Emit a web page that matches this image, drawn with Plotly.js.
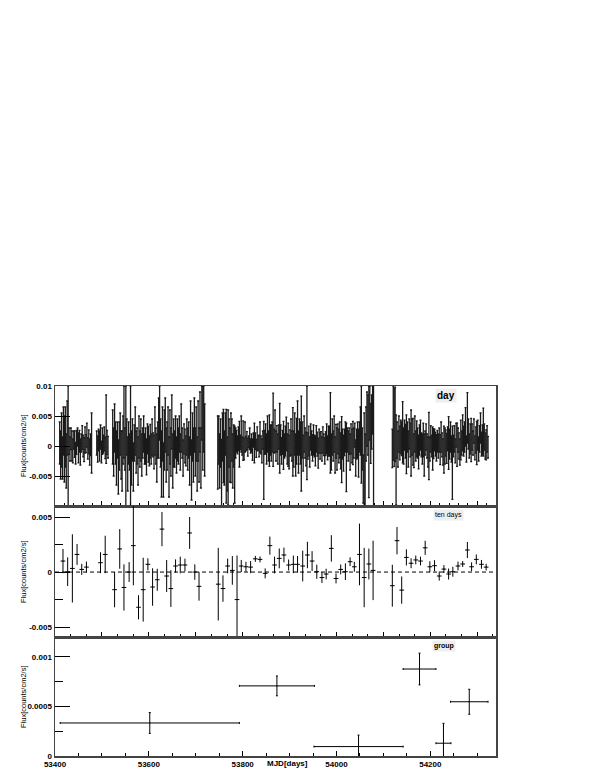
<!DOCTYPE html>
<html>
<head>
<meta charset="utf-8">
<script src="https://cdn.plot.ly/plotly-3.0.1.min.js"></script>
<style>html,body{margin:0;padding:0;background:#fff;}#chart{width:595px;height:770px;}</style>
</head>
<body>
<div id="chart"></div>
<script>
// ---------- DATA ----------
// Daily light curve: segments of daily points (2-day sampling), flux in units of 1e-4 counts/cm2/s
const daySegStart = [53410, 53489, 53523, 53747, 54057, 54119];
const daySegStep = 2;
const dayFluxSeg1 = [5,-15,10,-20,25,-5,15,-25,30,0,8,-5,12,0,-8,10,3,-12,6,15,-3,8,-10,5,14,0,-6,10,4,18,-4,7,-10,2,5];
const dayErrSeg1  = [35,40,45,35,40,55,50,45,45,100,22,20,18,25,20,15,22,18,20,15,25,18,22,15,20,18,20,22,15,20,18,20,22,18,50];
const dayFluxSeg2 = [5,-5,10,0,15,-10,8,3,12,-3,28,6,-2];
const dayErrSeg2  = [20,22,18,25,20,18,22,15,20,18,57,20,18];
const dayFluxSeg3 = [15,-10,30,5,-20,10,-35,0,20,-15,
  -25,10,40,-5,0,15,-30,5,-10,0,
  -20,10,-35,5,25,-10,0,-25,15,-5,
  10,-15,5,20,-5,0,-18,12,3,-8,
  8,-5,15,2,-10,25,0,-20,10,30,
  55,5,-30,20,-40,10,35,-15,0,25,
  -35,15,-10,40,-25,5,-5,15,-15,10,
  0,20,-10,30,5,-20,12,0,-8,15,
  -5,10,-25,30,-40,15,-15,35,-10,20,
  -30,25,-15,40,-20,55,30,45,10];
const dayErrSeg3 = [45,40,40,35,45,30,45,40,35,40,
  50,40,60,35,100,30,45,35,30,100,
  45,35,40,30,40,35,30,40,35,30,
  35,35,25,30,25,30,30,25,30,25,
  28,25,30,20,28,40,30,40,30,50,
  45,40,55,45,45,50,45,45,40,40,
  50,45,40,45,45,40,30,35,30,35,
  30,30,30,40,25,30,25,28,25,30,
  35,30,40,45,50,40,45,45,40,45,
  45,50,45,50,50,45,70,55,60];
const dayFluxSeg4 = [-11,10,-25,5,-47,15,0,-20,20,-17,
  -30,-19,5,-15,-3,10,-25,0,-31,5,
  8,2,12,3,6,20,0,9,-5,15,
  4,9,-2,7,12,0,5,-6,10,5,
  8,-4,12,5,0,15,2,-8,10,-24,
  6,12,-5,20,0,9,10,5,15,27,
  8,25,0,12,-5,15,13,10,-8,6,
  1,0,8,20,-5,2,-10,5,15,0,
  7,-5,20,-15,8,30,-10,15,5,4,
  10,-12,20,5,-5,22,0,8,-10,15,
  5,-3,10,0,-8,12,3,-12,8,0,
  6,-5,10,2,-8,4,12,-3,8,8,
  22,-10,15,0,20,-15,8,-5,12,0,
  10,-8,-6,3,-12,6,15,-19,10,0,
  8,-10,12,0,5,5,18,-20,3,10,
  -12,15,25,19,-5];
const dayErrSeg4 = [61,40,45,40,58,40,61,45,35,78,
  45,79,40,45,58,35,45,35,64,25,
  18,15,20,38,12,30,15,33,18,25,
  12,15,15,10,18,12,15,18,12,33,
  14,15,20,12,18,25,15,20,15,65,
  20,25,25,30,25,43,25,30,25,61,
  20,35,25,22,25,20,58,25,22,20,
  40,20,25,28,25,36,28,22,30,25,
  57,30,35,35,38,45,35,30,35,79,
  30,30,30,25,28,78,22,25,25,22,
  20,22,25,18,25,22,20,25,20,22,
  18,20,22,18,22,20,25,20,25,25,
  67,30,30,25,30,30,28,35,25,28,
  30,30,55,25,30,22,25,57,20,25,
  22,30,25,28,36,25,20,30,25,30,
  40,25,40,81,35];
const dayFluxSeg5 = [-55,-23,-40,20,45,35,7,55,21,40,60,0];
const dayErrSeg5  = [40,78,60,45,45,50,93,45,50,45,40,110];
const dayFluxSeg6 = [-4,38,31,36,-23,10,-5,20,5,15,
  12,23,0,18,8,3,15,-5,20,10,
  5,15,7,-8,20,0,12,5,-10,10,
  18,2,-5,10,-15,5,15,0,-10,0,
  -5,12,0,-4,4,10,3,-3,8,0,
  10,-6,15,2,-10,-6,0,5,-4,12,
  5,3,15,-5,-28,0,12,-8,18,2,
  10,0,-10,10,5,22,8,15,32,-5,
  47,20,0,12,10,15,5,25,-3,10,
  5,18,-5,12,30,3,10,23,15,0,
  2,12,-2];
const dayErrSeg6 = [32,62,65,62,75,30,30,30,28,28,
  28,51,30,25,28,49,25,30,25,28,
  55,30,39,28,30,25,30,25,28,25,
  25,20,25,28,35,20,22,20,25,56,
  20,22,18,36,25,18,20,22,18,20,
  20,25,25,20,22,39,30,22,25,20,
  44,25,25,22,61,18,22,20,20,36,
  20,22,22,33,20,30,25,25,32,22,
  42,25,20,25,36,22,20,20,20,22,
  36,25,20,22,25,20,25,40,22,22,
  25,22,18];

// Ten-day bins (MJD, flux, error) in counts/cm2/s
const tenMJD = [53417,53427,53437,53447,53457,53467,53497,53507,53527,53538,53547,53558,53567,53578,53588,53598,53608,53618,53628,53638,53647,53657,53667,53677,53687,53698,53707,
  53748,53758,53768,53778,53788,53797,53807,53817,53827,53837,53848,53858,53868,53878,53888,53898,53908,53917,53928,53938,53948,53958,53969,53978,53989,53999,54009,54019,54029,54038,54049,54059,54069,54078,
  54119,54129,54139,54149,54159,54169,54179,54189,54199,54209,54219,54229,54239,54248,54259,54269,54279,54288,54298,54309,54319];
const tenFlux = [0.0010,0.00003,0.00033,0.0016,0.00024,0.00045,0.00085,0.0016,-0.0016,0.0021,-0.0014,0.0,0.0024,-0.0032,-0.0016,0.0007,-0.00136,-0.0007,0.0039,-0.00036,-0.0015,0.00055,0.00064,0.00064,0.00355,0.0,-0.0013,
  -0.0011,-0.0015,0.00055,0.00015,-0.0025,0.00055,0.00048,0.00045,0.0012,0.00115,-0.00012,0.0024,0.00064,0.00124,0.00155,0.00064,0.0007,0.0007,0.00055,0.00155,0.0010,0.00003,-0.0005,-0.00018,0.00215,-0.00058,0.00024,0.00003,0.00094,0.00048,0.0016,-0.0005,0.00073,0.00015,
  -0.00124,0.00285,-0.00164,0.00133,0.0008,0.0011,0.0010,0.0022,0.00048,0.00058,-0.00036,0.00027,-0.00018,0.00003,0.00055,0.00073,0.0020,0.00048,0.00115,0.0007,0.00045];
const tenErr = [0.0011,0.0013,0.0031,0.00095,0.0005,0.0005,0.00095,0.0017,0.0016,0.0018,0.0021,0.0009,0.0036,0.0011,0.0029,0.00055,0.0017,0.0010,0.00155,0.00145,0.00167,0.0006,0.00076,0.00058,0.00145,0.0007,0.0013,
  0.0033,0.0012,0.00067,0.0013,0.0040,0.00055,0.00045,0.00055,0.00027,0.00027,0.00045,0.00082,0.00076,0.0009,0.00067,0.0005,0.0008,0.00076,0.0014,0.0012,0.0009,0.00064,0.0005,0.00048,0.0012,0.00045,0.00045,0.00076,0.0004,0.00045,0.0028,0.0027,0.0014,0.0027,
  0.0019,0.00124,0.00124,0.00073,0.00045,0.0004,0.0004,0.00064,0.0005,0.0005,0.00042,0.00036,0.0005,0.00045,0.0004,0.00027,0.00073,0.0004,0.00045,0.0004,0.0003];
const tenHalfWidth = 5;

// Grouped bins
const groupMJD = [53602, 53873, 54047, 54177, 54228, 54283];
const groupHalfWidth = [191, 80, 95, 35, 16, 40];
const groupFlux = [0.000333, 0.000707, 0.000095, 0.000877, 0.000129, 0.000547];
const groupErr = [0.000105, 0.0001, 0.000116, 0.00016, 0.0002, 0.000126];

// Axis tick labels
const xTickVals = [53400, 53600, 53800, 54000, 54200];
const xTickText = ['53400', '53600', '53800', '54000', '54200'];
const y1TickVals = [-0.005, 0, 0.005, 0.01];
const y1TickText = ['-0.005', '0', '0.005', '0.01'];
const y2TickVals = [-0.005, 0, 0.005];
const y2TickText = ['-0.005', '0', '0.005'];
const y3TickVals = [0, 0.0005, 0.001];
const y3TickText = ['0', '0.0005', '0.001'];

// ---------- BUILD ----------
const segFlux = [dayFluxSeg1, dayFluxSeg2, dayFluxSeg3, dayFluxSeg4, dayFluxSeg5, dayFluxSeg6];
const segErr = [dayErrSeg1, dayErrSeg2, dayErrSeg3, dayErrSeg4, dayErrSeg5, dayErrSeg6];
const dayX = [], dayY = [], dayE = [];
segFlux.forEach((arr, s) => {
  arr.forEach((v, i) => {
    dayX.push(daySegStart[s] + daySegStep * i);
    dayY.push(v * 1e-4);
    dayE.push(segErr[s][i] * 1e-4);
  });
});

const W = 595, H = 770;
const px = v => v / W;
const py = v => 1 - v / H;
const xDom = [px(55), px(496)];
const xRange = [53400, 54340];
const frameColor = '#444';
const FONT = 'Liberation Sans, Arial, sans-serif';
const tickFont = {family: FONT, size: 8, color: '#000', weight: 'bold'};

function xAxis(anchor, dtick, minorDtick, showLabels) {
  return {
    domain: xDom, range: xRange, anchor: anchor, showgrid: false, zeroline: false,
    showline: true, mirror: true, linecolor: frameColor, linewidth: 1.5,
    ticks: 'inside', ticklen: 5, tickcolor: '#000', tickwidth: 1,
    tick0: 53400, dtick: dtick,
    minor: {ticks: 'inside', ticklen: 3, dtick: minorDtick, tick0: 53400, tickcolor: '#000', showgrid: false},
    showticklabels: showLabels, tickfont: tickFont, automargin: false, fixedrange: true
  };
}
function yAxis(anchor, dom, range, tv, tt, minorDtick) {
  const a = {
    domain: dom, range: range, anchor: anchor, showgrid: false, zeroline: false,
    showline: true, mirror: true, linecolor: frameColor, linewidth: 1.5,
    ticks: 'inside', ticklen: 15, tickcolor: '#000', tickwidth: 1,
    tickmode: 'array', tickvals: tv, ticktext: tt, tickfont: tickFont,
    automargin: false, fixedrange: true
  };
  if (minorDtick) a.minor = {ticks: 'inside', ticklen: 8, dtick: minorDtick, tick0: 0, tickcolor: '#000', showgrid: false};
  return a;
}

const traces = [
  {
    x: dayX, y: dayY, type: 'scatter', mode: 'markers', xaxis: 'x', yaxis: 'y',
    marker: {size: 0.5, color: '#000'},
    error_y: {type: 'data', array: dayE, visible: true, color: '#1a1a1a', thickness: 1.3, width: 1},
    hoverinfo: 'skip', showlegend: false
  },
  {
    x: tenMJD, y: tenFlux, type: 'scatter', mode: 'markers', xaxis: 'x2', yaxis: 'y2',
    marker: {size: 1, color: '#000'},
    error_y: {type: 'data', array: tenErr, visible: true, color: '#000', thickness: 1, width: 0},
    error_x: {type: 'constant', value: tenHalfWidth, visible: true, color: '#000', thickness: 1, width: 0},
    hoverinfo: 'skip', showlegend: false
  },
  {
    x: groupMJD, y: groupFlux, type: 'scatter', mode: 'markers', xaxis: 'x3', yaxis: 'y3',
    marker: {size: 1, color: '#000'},
    error_y: {type: 'data', array: groupErr, visible: true, color: '#000', thickness: 1, width: 1},
    error_x: {type: 'data', array: groupHalfWidth, visible: true, color: '#000', thickness: 1, width: 1},
    hoverinfo: 'skip', showlegend: false
  }
];

const x3 = xAxis('y3', 200, 50, true);
x3.tickmode = 'array'; x3.tickvals = xTickVals; x3.ticktext = xTickText;
x3.minor = {ticks: 'inside', ticklen: 3, dtick: 50, tick0: 53400, tickcolor: '#000', showgrid: false};

function ann(text, x, y, size, extra) {
  return Object.assign({text: text, xref: 'paper', yref: 'paper', x: px(x), y: py(y),
    xanchor: 'center', yanchor: 'middle', showarrow: false,
    font: {family: FONT, size: size, color: '#000'}}, extra || {});
}

const layout = {
  width: W, height: H,
  margin: {l: 0, r: 0, t: 0, b: 0},
  paper_bgcolor: '#fff', plot_bgcolor: '#fff',
  showlegend: false,
  xaxis: xAxis('y', 100, 20, false),
  xaxis2: xAxis('y2', 100, 100/3, false),
  xaxis3: x3,
  yaxis: yAxis('x', [py(506), py(386)], [-0.01, 0.01], y1TickVals, y1TickText, null),
  yaxis2: yAxis('x2', [py(637), py(506)], [-0.0059, 0.006], y2TickVals, y2TickText, 0.0025),
  yaxis3: yAxis('x3', [py(756), py(637)], [0, 0.0012], y3TickVals, y3TickText, 0.00025),
  shapes: [
    {type: 'line', xref: 'x2 domain', x0: 0, x1: 1, yref: 'y2', y0: 0, y1: 0,
     line: {color: '#000', width: 1, dash: '4px,3px'}}
  ],
  annotations: [
    ann('Flux[counts/cm2/s]', 23, 446, 7.5, {textangle: -90}),
    ann('Flux[counts/cm2/s]', 23, 572, 7.5, {textangle: -90}),
    ann('Flux[counts/cm2/s]', 23, 697, 7.5, {textangle: -90}),
    ann('<b>MJD[days]</b>', 287, 763, 8),
    ann('<b>day</b>', 446, 396, 10, {bgcolor: '#eeeeee', borderpad: 1}),
    ann('ten days', 448, 515, 7, {bgcolor: '#eeeeee', borderpad: 1}),
    ann('<b>group</b>', 444, 646, 7, {bgcolor: '#eeeeee', borderpad: 1})
  ]
};

Plotly.newPlot('chart', traces, layout, {staticPlot: true, displayModeBar: false});
</script>
</body>
</html>
